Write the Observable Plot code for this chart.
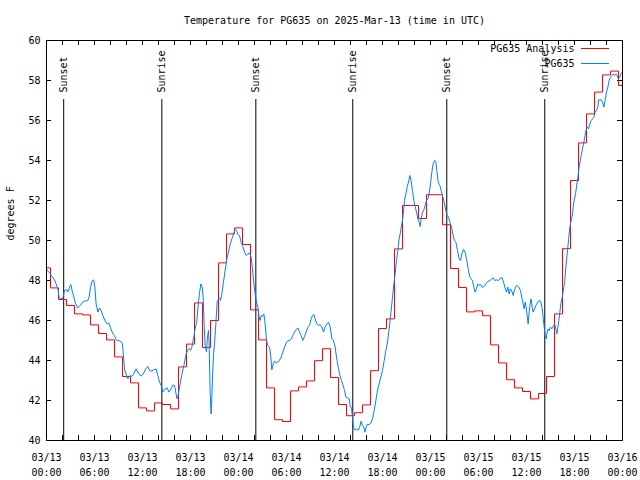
<!DOCTYPE html>
<html><head><meta charset="utf-8">
<script src="https://cdn.jsdelivr.net/npm/d3@7"></script>
<script src="https://cdn.jsdelivr.net/npm/@observablehq/plot@0.6"></script>
<style>html,body{margin:0;padding:0;background:#fff}svg{display:block}</style>
</head><body><div id="chart"></div>
<script>
const chartTitle = "Temperature for PG635 on 2025-Mar-13 (time in UTC)";
const yAxisLabel = "degrees F";
const seriesNames = ["PG635 Analysis", "PG635"];
const startTime = Date.UTC(2025, 2, 13, 0, 0);

// hourly analysis values, 00:00 on 03/13 through 00:00 on 03/16
const analysisTemps = [
  48.63,47.63,47.05,46.75,46.33,46.28,45.78,45.35,45.03,44.18,43.2,42.88,
  41.63,41.48,41.88,41.8,41.58,43.68,44.82,46.88,44.65,46.0,48.88,50.33,
  50.63,49.8,46.53,45.03,42.63,41.04,40.95,42.48,42.68,42.98,43.99,44.59,
  43.15,41.8,41.24,41.39,41.78,43.49,45.6,46.08,49.58,51.75,51.75,51.1,
  52.29,52.29,50.79,48.6,47.65,46.43,46.48,46.24,44.78,43.88,43.04,42.63,
  42.45,42.08,42.35,43.2,46.33,49.59,53.0,54.88,56.33,57.42,58.28,58.47,57.75
];

// observation times (hours after 03/13 00:00 UTC) and temperatures
const obsHours = [
  0,0.08,0.4,0.67,1,1.2,1.42,1.58,1.75,2.04,2.25,2.5,2.67,2.88,3.04,3.2,3.42,3.63,3.92,4.2,4.54,4.75,
  5.17,5.33,5.5,5.7,5.9,6.04,6.2,6.42,6.63,6.83,7.04,7.33,7.58,7.8,8,8.3,8.5,8.7,8.9,9.25,9.5,9.63,
  9.75,9.9,10.17,10.42,10.67,10.9,11.2,11.54,11.83,12.1,12.4,12.67,12.88,13.08,13.4,13.7,13.92,14.13,
  14.33,14.54,14.83,15.08,15.3,15.5,15.8,16,16.2,16.33,16.5,16.7,16.9,17.17,17.46,17.67,17.85,18,18.17,
  18.37,18.58,18.8,19,19.17,19.3,19.45,19.58,19.7,19.83,20,20.1,20.25,20.33,20.46,20.58,20.67,20.75,
  20.88,21,21.17,21.33,21.5,21.63,21.75,21.92,22.12,22.33,22.54,22.75,22.96,23.17,23.38,23.58,23.75,
  23.92,24.12,24.33,24.54,24.75,24.96,25.17,25.38,25.58,25.75,25.92,26.08,26.25,26.42,26.58,26.71,
  26.83,27,27.17,27.33,27.5,27.67,27.88,28.04,28.17,28.33,28.5,28.71,28.92,29.1,29.33,29.54,29.75,
  29.96,30.17,30.38,30.58,30.8,31,31.2,31.42,31.63,31.83,32.04,32.25,32.46,32.67,32.88,33.08,33.25,
  33.42,33.58,33.79,34,34.2,34.42,34.63,34.83,35.04,35.25,35.46,35.67,35.85,36.08,36.25,36.46,36.67,
  36.88,37.08,37.25,37.42,37.63,37.83,37.96,38.13,38.25,38.38,38.54,38.75,38.96,39.17,39.33,39.5,
  39.67,39.79,39.92,40.08,40.33,40.54,40.75,40.96,41.17,41.38,41.58,41.79,42,42.21,42.42,42.63,42.83,
  43.04,43.25,43.42,43.58,43.75,43.92,44.08,44.25,44.42,44.58,44.75,44.92,45.08,45.25,45.42,45.58,
  45.75,45.92,46.08,46.25,46.42,46.58,46.71,46.83,47,47.17,47.33,47.5,47.67,47.83,48,48.17,48.33,
  48.5,48.67,48.79,48.96,49.17,49.33,49.5,49.71,49.92,50.08,50.25,50.42,50.63,50.83,51,51.17,51.38,
  51.58,51.75,51.92,52.13,52.33,52.54,52.75,52.92,53.08,53.25,53.42,53.58,53.75,53.92,54.08,54.25,
  54.42,54.58,54.8,55,55.2,55.42,55.63,55.83,56.04,56.25,56.46,56.67,56.88,57.08,57.29,57.5,57.67,
  57.83,58,58.17,58.33,58.5,58.67,58.83,59.04,59.25,59.42,59.58,59.71,59.83,59.96,60.08,60.21,60.33,
  60.46,60.58,60.71,60.83,61,61.17,61.33,61.5,61.67,61.83,61.96,62.08,62.21,62.33,62.46,62.58,62.71,
  62.83,63,63.17,63.33,63.5,63.67,63.79,63.92,64.04,64.17,64.29,64.42,64.54,64.67,64.79,64.92,65.04,
  65.17,65.29,65.42,65.58,65.75,65.88,66,66.13,66.25,66.42,66.58,66.75,66.92,67.08,67.25,67.42,67.58,
  67.75,67.92,68.08,68.25,68.42,68.58,68.75,68.92,69,69.17,69.33,69.5,69.67,69.83,70,70.17,70.33,
  70.5,70.67,70.83,71,71.17,71.33,71.5,71.67,71.83,72
];
const obsTemps = [
  48.55,48.5,48.38,48.22,48.03,47.83,47.58,47.17,47.08,47.12,47.5,47.55,47.42,47.67,47.8,47.5,47.17,46.83,46.63,46.75,46.92,46.97,
  47,47.17,47.67,47.97,48.03,47.7,46.83,46.42,46.63,46.5,46.25,45.97,45.83,45.87,45.63,45.33,45.25,45.03,45,44.97,44.83,44.17,
  43.58,43.37,43.08,43.25,43.2,43.33,43.58,43.33,43.23,43.33,43.58,43.7,43.5,43.47,43.53,43.58,43.25,42.92,
  42.75,42.42,42.58,42.63,42.42,42.53,42.78,42.75,42.33,42.08,42.33,42.83,43.25,43.75,44.33,44.53,44.6,44.5,44.67,
  45.08,45.58,46,46.97,47.5,47.83,47.7,47.17,45.83,44.75,44.42,45.08,45.5,44.83,42.33,41.33,42.17,43.17,
  44.33,44.83,45.83,46.92,47.08,47.13,47,47.33,47.92,48.5,49.08,49.42,49.83,50.08,50.33,50.58,50.5,
  50.3,50.25,49.92,49.7,49.42,49.25,49.33,49.37,49.17,48.58,47.83,47.33,46.92,46.67,46.17,46,
  46.25,46.2,46.33,45.83,45,44.75,44.67,44.17,43.53,43.83,43.97,43.87,43.92,44,44.17,44.42,44.67,
  44.87,45,45,45.08,45.25,45.42,45.53,45.63,45.42,45.25,45,45.2,45.42,45.67,45.75,46.08,46.25,
  46.3,46.08,45.83,45.75,45.8,45.67,45.42,45.67,45.83,45.92,45.67,45.08,45.03,44.67,44.17,43.67,43.25,
  43,42.75,42.5,42.17,42.13,42.08,41.75,41.58,41.17,40.67,40.53,40.58,40.5,40.7,40.97,40.75,
  40.67,40.42,40.63,40.8,40.8,40.87,41.08,41.5,42,42.53,42.83,43.17,43.5,44,44.5,44.92,45.58,
  46.33,47.17,47.83,48.33,49,49.5,50.08,50.42,50.83,51.25,52,52.33,52.67,52.92,53.25,52.97,
  52.5,52,51.7,51.42,51.08,50.92,50.7,51.08,51.42,51.53,51.75,52,52.08,52.33,52.83,53.42,53.83,
  54,53.95,53.5,52.92,52.75,52.5,52.25,51.92,51.5,51.25,51.17,50.92,50.67,50.25,50,49.92,49.5,
  49.08,49,49.33,49.55,49.42,49,48.5,48.17,48.08,48,47.67,47.42,47.6,47.83,47.75,47.8,
  47.67,47.67,47.75,47.87,47.97,48,48.08,48.13,48,48.03,48,48.07,48.17,48,47.67,47.42,47.67,
  47.33,47.58,47.47,47.25,47.53,47.7,47.75,47.67,47.5,47.13,46.83,46.58,46.92,46.67,46.25,45.83,46.42,
  46.83,47.08,46.67,46.42,46.58,46.75,46.87,46.97,47,46.87,46.58,46.17,45.67,45.25,45.08,45.42,45.58,
  45.5,45.67,45.58,45.7,45.83,45.58,45.33,45.67,46,46.42,46.83,47.08,47.33,47.67,48,48.67,49.17,
  49.67,50.17,50.67,51,51.33,51.83,52.08,52.33,52.67,53.17,53.67,54.08,54.42,54.75,55.08,55.5,55.67,
  55.58,55.83,56,56.08,56.17,56.42,56.5,56.67,57.03,57.03,57.03,56.92,56.67,57,57.42,57.67,58,
  58.17,58.25,58.33,58.25,58.33,58.25,58.08,58.17,58.37,58.4
];

const sunEventTimes = ["2025-03-13T02:09Z","2025-03-13T14:25Z","2025-03-14T02:10Z","2025-03-14T14:17Z","2025-03-15T02:02Z","2025-03-15T14:17Z"];
const sunEventLabels = ["Sunset","Sunrise","Sunset","Sunrise","Sunset","Sunrise"];
const yTicks = [40,42,44,46,48,50,52,54,56,58,60];
const xLabelHours = [0,6,12,18,24,30,36,42,48,54,60,66,72];
const xMinorHours = d3.range(0, 73, 2);

const HOUR = 3600e3;
const toDate = h => new Date(startTime + h * HOUR);
const analysis = analysisTemps.map((v, i) => ({t: toDate(i), v}));
const obs = obsHours.map((h, i) => ({t: toDate(h), v: obsTemps[i]}));
const sun = sunEventTimes.map((s, i) => ({t: new Date(s), label: sunEventLabels[i]}));
const xLabelDates = xLabelHours.map(toDate);
const xMinorDates = xMinorHours.map(toDate);

const colors = {analysis: "#ff0000", obs: "#0080ff"};
const font = "'DejaVu Sans Mono', monospace";

const plot = Plot.plot({
  width: 640, height: 480,
  marginLeft: 46, marginRight: 18, marginTop: 40, marginBottom: 40,
  style: {fontFamily: font, fontSize: "10px", background: "#fff", color: "#000", overflow: "visible"},
  x: {type: "utc", domain: [toDate(0), toDate(72)], label: null},
  y: {domain: [40, 60], label: null},
  marks: [
    Plot.ruleX(xMinorDates, {insetTop: 395, stroke: "#000"}),
    Plot.ruleX(xMinorDates, {insetBottom: 395, stroke: "#000"}),
    Plot.ruleY(yTicks, {insetRight: 571, stroke: "#000"}),
    Plot.ruleY(yTicks, {insetLeft: 571, stroke: "#000"}),
    Plot.axisX(xLabelDates, {tickSize: 0, tickPadding: 10, tickFormat: d3.utcFormat("%m/%d\n%H:%M"), lineHeight: 1.5, label: null}),
    Plot.axisY(yTicks, {tickSize: 0, tickPadding: 6, label: null}),
    Plot.ruleX(sun, {x: "t", insetTop: 59, stroke: "#000"}),
    Plot.text(sun, {x: "t", text: "label", frameAnchor: "top", dy: 52, rotate: -90, textAnchor: "start", lineAnchor: "middle"}),
    Plot.line(analysis, {x: "t", y: "v", curve: "step", stroke: colors.analysis, strokeWidth: 1}),
    Plot.line(obs, {x: "t", y: "v", stroke: colors.obs, strokeWidth: 1}),
    Plot.frame({stroke: "#000"}),
    Plot.text([chartTitle], {frameAnchor: "top", dy: -20, lineAnchor: "middle"}),
    Plot.text([yAxisLabel], {frameAnchor: "left", dx: -36, rotate: -90, lineAnchor: "middle"}),
    Plot.text([seriesNames[0]], {frameAnchor: "top-right", dx: -48, dy: 8, textAnchor: "end", lineAnchor: "middle"}),
    Plot.text([seriesNames[1]], {frameAnchor: "top-right", dx: -48, dy: 23, textAnchor: "end", lineAnchor: "middle"})
  ]
});

// legend sample lines
const svg = d3.select(plot);
[[colors.analysis, 48.5], [colors.obs, 63.5]].forEach(([c, y]) => {
  svg.append("line").attr("x1", 581).attr("x2", 609).attr("y1", y).attr("y2", y)
    .attr("stroke", c).attr("stroke-width", 1);
});
document.getElementById("chart").appendChild(plot);
</script>
</body></html>
